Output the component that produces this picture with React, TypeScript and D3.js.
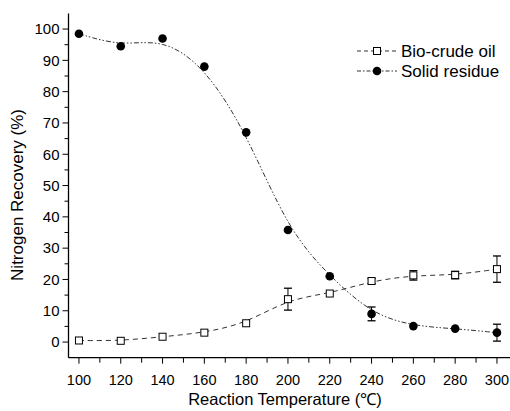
import React, { useEffect, useRef } from 'react';
import * as d3 from 'd3';

// Reaction temperatures (°C)
const temperatures = [100, 120, 140, 160, 180, 200, 220, 240, 260, 280, 300];

// Bio-crude oil nitrogen recovery (%) and error
const bioCrude = [0.5, 0.4, 1.7, 3.0, 6.0, 13.7, 15.5, 19.5, 21.3, 21.4, 23.3];
const bioCrudeErr = [0, 0, 0, 0, 0, 3.5, 0, 0.8, 1.5, 1.2, 4.2];

// Solid residue nitrogen recovery (%) and error
const solidResidue = [98.5, 94.5, 97.0, 88.0, 67.0, 35.8, 21.0, 9.0, 5.1, 4.3, 3.0];
const solidResidueErr = [0, 0, 0, 0, 0, 0, 0, 2.2, 0, 0, 2.7];

const xTicks = [100, 120, 140, 160, 180, 200, 220, 240, 260, 280, 300];
const yTicks = [0, 10, 20, 30, 40, 50, 60, 70, 80, 90, 100];

const width = 510;
const height = 411;
const font = 'Arial, "Liberation Sans", sans-serif';

const App = () => {
  const svgRef = useRef<SVGSVGElement>(null);

  useEffect(() => {
    const svg = d3.select(svgRef.current);
    svg.selectAll('*').remove();

    const x = d3.scaleLinear().domain([95, 306]).range([68.5, 509.5]);
    const y = d3.scaleLinear().domain([-5, 105]).range([357.7, 13.4]);

    // axes
    const g = svg.append('g');
    g.append('line').attr('x1', x(95)).attr('x2', x(95)).attr('y1', y(105)).attr('y2', y(-5))
      .attr('stroke', '#000').attr('stroke-width', 1.3);
    g.append('line').attr('x1', x(95)).attr('x2', width).attr('y1', y(-5)).attr('y2', y(-5))
      .attr('stroke', '#000').attr('stroke-width', 1.3);

    // y ticks
    d3.range(0, 105, 5).forEach((v) => {
      const major = v % 10 === 0;
      g.append('line').attr('x1', x(95)).attr('x2', x(95) - (major ? 6 : 4))
        .attr('y1', y(v)).attr('y2', y(v)).attr('stroke', '#000').attr('stroke-width', 1);
    });
    g.selectAll('.ylab').data(yTicks).enter().append('text')
      .attr('x', x(95) - 9).attr('y', (d) => y(d)).attr('dy', '0.35em')
      .attr('text-anchor', 'end').style('font-family', font).style('font-size', '15px')
      .text((d) => d);

    // x ticks
    d3.range(100, 306, 10).forEach((v) => {
      const major = v % 20 === 0;
      g.append('line').attr('x1', x(v)).attr('x2', x(v))
        .attr('y1', y(-5)).attr('y2', y(-5) + (major ? 6 : 5)).attr('stroke', '#000').attr('stroke-width', 1);
    });
    g.selectAll('.xlab').data(xTicks).enter().append('text')
      .attr('x', (d) => x(d)).attr('y', 385).attr('text-anchor', 'middle')
      .style('font-family', font).style('font-size', '14.5px').text((d) => d);

    // titles
    svg.append('text').attr('transform', `translate(23, ${y(47)}) rotate(-90)`)
      .attr('text-anchor', 'middle').style('font-family', font).style('font-size', '17px')
      .text('Nitrogen Recovery (%)');
    svg.append('text').attr('x', 285).attr('y', 405).attr('text-anchor', 'middle')
      .style('font-family', font).style('font-size', '16.5px')
      .text('Reaction Temperature (℃)');

    const line = d3.line<number>().x((_, i) => x(temperatures[i])).y((d) => y(d)).curve(d3.curveBasis);

    const series = [
      { values: bioCrude, err: bioCrudeErr, dash: '5,4', filled: false },
      { values: solidResidue, err: solidResidueErr, dash: '5,2,1.5,2,1.5,2', filled: true },
    ];

    series.forEach((s) => {
      svg.append('path').attr('d', line(s.values) as string).attr('fill', 'none')
        .attr('stroke', '#333').attr('stroke-width', 1).attr('stroke-dasharray', s.dash);

      // error bars
      s.values.forEach((v, i) => {
        const e = s.err[i];
        if (!e) return;
        const cx = x(temperatures[i]);
        svg.append('line').attr('x1', cx).attr('x2', cx).attr('y1', y(v + e)).attr('y2', y(v - e))
          .attr('stroke', '#000').attr('stroke-width', 1);
        [v + e, v - e].forEach((yy) => {
          svg.append('line').attr('x1', cx - 4).attr('x2', cx + 4).attr('y1', y(yy)).attr('y2', y(yy))
            .attr('stroke', '#000').attr('stroke-width', 1.3);
        });
      });

      // markers
      s.values.forEach((v, i) => {
        const cx = x(temperatures[i]);
        if (s.filled) {
          svg.append('circle').attr('cx', cx).attr('cy', y(v)).attr('r', 4.3).attr('fill', '#000');
        } else {
          svg.append('rect').attr('x', cx - 3.5).attr('y', y(v) - 3.5).attr('width', 7).attr('height', 7)
            .attr('fill', '#fff').attr('stroke', '#000').attr('stroke-width', 1);
        }
      });
    });

    // legend
    const legend = [
      { label: 'Bio-crude oil', dash: '4,3', filled: false, y: 51 },
      { label: 'Solid residue', dash: '4,2,1.5,2', filled: true, y: 71 },
    ];
    legend.forEach((l) => {
      svg.append('line').attr('x1', 357).attr('x2', 397).attr('y1', l.y).attr('y2', l.y)
        .attr('stroke', '#333').attr('stroke-width', 1).attr('stroke-dasharray', l.dash);
      if (l.filled) {
        svg.append('circle').attr('cx', 377).attr('cy', l.y).attr('r', 4.3).attr('fill', '#000');
      } else {
        svg.append('rect').attr('x', 373.5).attr('y', l.y - 3.5).attr('width', 7).attr('height', 7)
          .attr('fill', '#fff').attr('stroke', '#000').attr('stroke-width', 1);
      }
      svg.append('text').attr('x', 401).attr('y', l.y).attr('dy', '0.35em')
        .style('font-family', font).style('font-size', '17px').text(l.label);
    });
  }, []);

  return (
    <svg ref={svgRef} width={width} height={height}
      style={{ position: 'absolute', left: 0, top: 0, background: '#fff' }} />
  );
};

export default App;
